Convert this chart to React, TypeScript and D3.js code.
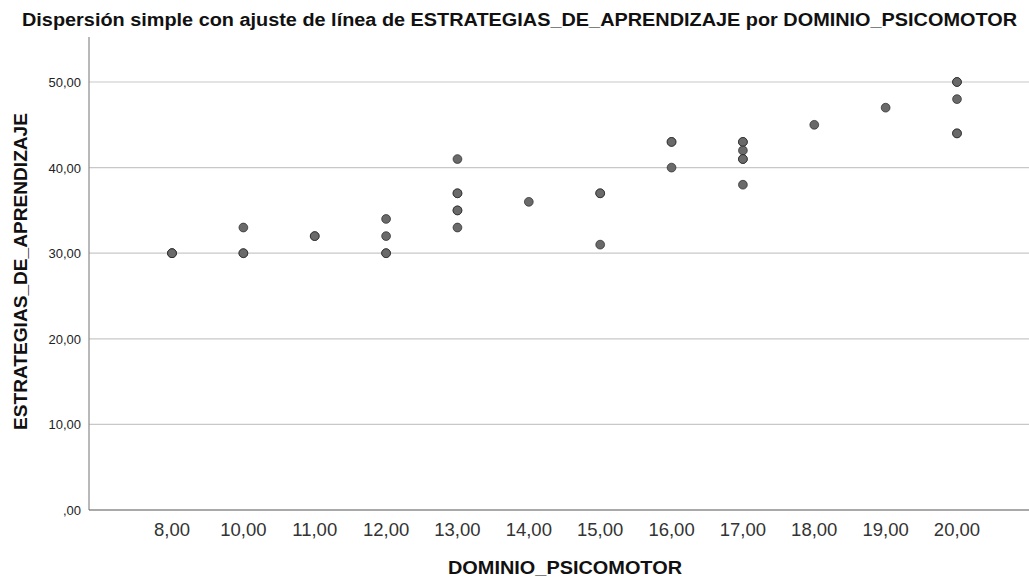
import React from "react";
import * as d3 from "d3";

const categories = ["8,00", "10,00", "11,00", "12,00", "13,00", "14,00", "15,00", "16,00", "17,00", "18,00", "19,00", "20,00"];
const xValues = ["8,00","8,00","8,00","10,00","10,00","10,00","11,00","11,00","12,00","12,00","12,00","12,00","13,00","13,00","13,00","13,00","13,00","13,00","14,00","15,00","15,00","15,00","16,00","16,00","16,00","17,00","17,00","17,00","17,00","17,00","17,00","18,00","19,00","20,00","20,00","20,00","20,00","20,00"];
const yValues = [30,30,30,33,30,30,32,32,34,32,30,30,41,37,37,35,35,33,36,37,37,31,43,43,40,43,43,42,41,41,38,45,47,50,50,48,44,44];
const yTicks = [0, 10, 20, 30, 40, 50];

const W = 1029, H = 578;
const left = 89, right = 1029, top = 37, bottom = 510;

export default function App() {
  const x = d3.scalePoint<string>().domain(categories).range([172, 957]);
  const y = d3.scaleLinear().domain([0, 50]).range([bottom, 82]);
  const fmt = (v: number) => (v === 0 ? ",00" : v.toFixed(2).replace(".", ","));
  const font = "'Liberation Sans', Arial, sans-serif";
  return (
    <svg width={W} height={H} style={{ position: "absolute", left: 0, top: 0, background: "#fff" }} fontFamily={font}>
      <rect x={0} y={0} width={W} height={H} fill="#fff" />
      <text x={22} y={26} fontSize={18} fontWeight="bold" fill="#111" textLength={995} lengthAdjust="spacingAndGlyphs">
        Dispersión simple con ajuste de línea de ESTRATEGIAS_DE_APRENDIZAJE por DOMINIO_PSICOMOTOR
      </text>
      {yTicks.filter(t => t > 0).map(t => (
        <line key={t} x1={left} x2={right} y1={y(t)} y2={y(t)} stroke="#c8c8c8" strokeWidth={1.2} />
      ))}
      <line x1={left} x2={left} y1={top} y2={bottom} stroke="#8a8a8a" strokeWidth={1.2} />
      <line x1={left} x2={right} y1={bottom} y2={bottom} stroke="#555" strokeWidth={1.2} />
      {yTicks.map(t => (
        <text key={t} x={81} y={y(t) + 5} textAnchor="end" fontSize={13} fill="#222">{fmt(t)}</text>
      ))}
      {categories.map(c => (
        <text key={c} x={x(c)} y={536} textAnchor="middle" fontSize={18.5} fill="#333">{c}</text>
      ))}
      <text x={565} y={574} textAnchor="middle" fontSize={18} fontWeight="bold" fill="#111" textLength={234} lengthAdjust="spacingAndGlyphs">DOMINIO_PSICOMOTOR</text>
      <text transform={`translate(27, ${271.5}) rotate(-90)`} textAnchor="middle" fontSize={18} fontWeight="bold" fill="#111" textLength={317} lengthAdjust="spacingAndGlyphs">ESTRATEGIAS_DE_APRENDIZAJE</text>
      {yValues.map((v, i) => (
        <circle key={i} cx={x(xValues[i])} cy={y(v)} r={4.4} fill="#6a6a6a" stroke="#222" strokeWidth={0.9} strokeOpacity={0.75} />
      ))}
    </svg>
  );
}
